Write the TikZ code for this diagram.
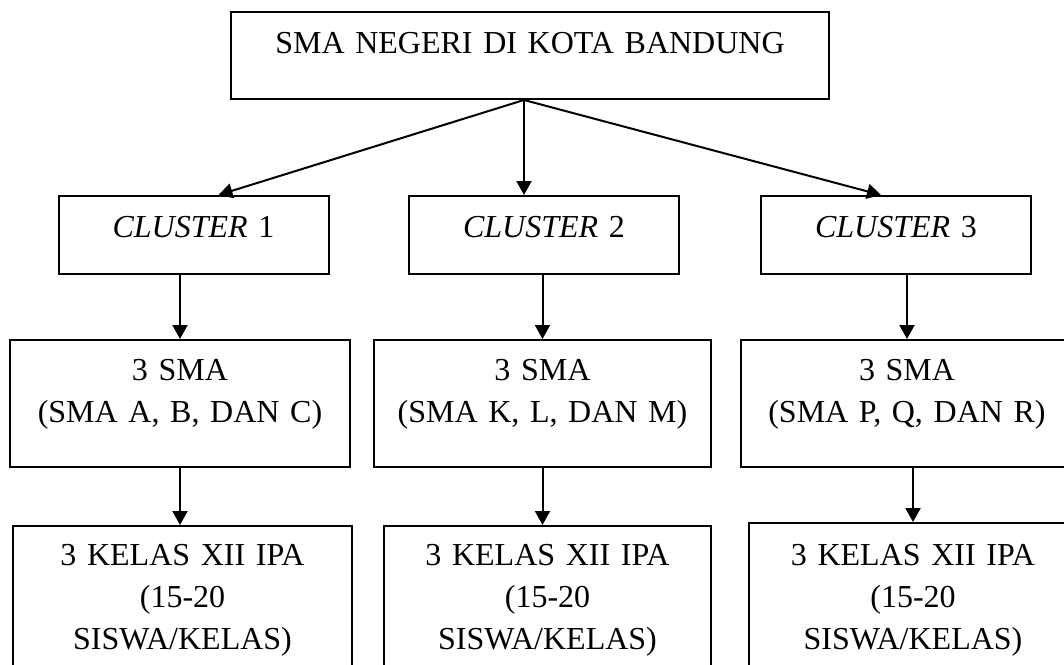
\documentclass[tikz,border=0pt]{standalone}
\usepackage{fontspec}
\setmainfont{Liberation Serif}
\usetikzlibrary{arrows.meta}

\tikzset{
  box/.style={draw, line width=1pt, inner sep=0pt, align=center, anchor=base,
    font=\fontsize{16}{21}\selectfont},
  arr/.style={-{Triangle[length=7pt,width=7.5pt]}, line width=1pt},
}

\begin{document}
\begin{tikzpicture}[x=0.5pt,y=-0.5pt]
	    \clip (0,0) rectangle (1064,664);
	    \node[box, text width=299pt, text height=21pt, text depth=22.5pt] at (530,54) (top) {SMA NEGERI DI KOTA BANDUNG};

	    \node[box, text width=135pt, text height=20.5pt, text depth=18.5pt] at (193.5,237) (c1) {\textit{CLUSTER} 1};
	    \node[box, text width=135pt, text height=20.5pt, text depth=18.5pt] at (544,237) (c2) {\textit{CLUSTER} 2};
	    \node[box, text width=135pt, text height=20.5pt, text depth=18.5pt] at (896,237) (c3) {\textit{CLUSTER} 3};

	    \node[box, text width=170pt, text height=20pt, text depth=43.5pt] at (180,380) (r1) {3 SMA\\(SMA A, B, DAN C)};
	    \node[box, text width=168.5pt, text height=20pt, text depth=43.5pt] at (542.5,380) (r2) {3 SMA\\(SMA K, L, DAN M)};
	    \node[box, text width=166pt, text height=20pt, text depth=43.5pt] at (907,380) (r3) {3 SMA\\(SMA P, Q, DAN R)};

	    \node[box, text width=169.5pt, text height=19.5pt, text depth=70pt] at (182.5,565) (k1) {3 KELAS XII IPA\\(15-20\\SISWA/KELAS)};
	    \node[box, text width=163.5pt, text height=19.5pt, text depth=70pt] at (547.5,565) (k2) {3 KELAS XII IPA\\(15-20\\SISWA/KELAS)};
	    \node[box, text width=164pt, text height=21pt, text depth=70pt] at (913,565) (k3) {3 KELAS XII IPA\\(15-20\\SISWA/KELAS)};

	    \coordinate (hub) at ([xshift=-3pt]top.south);
	    \draw[arr] (hub) -- ([xshift=12.5pt]c1.north);
	    \draw[arr] (hub) -- (hub |- c2.north);
	    \draw[arr] (hub) -- ([xshift=-7.5pt]c3.north);

	    \draw[arr] (c1.south -| r1.north) -- (r1.north);
	    \draw[arr] (c2.south -| r2.north) -- (r2.north);
	    \draw[arr] (c3.south -| r3.north) -- (r3.north);

	    \draw[arr] (r1.south) -- (r1.south |- k1.north);
	    \draw[arr] (r2.south) -- (r2.south |- k2.north);
	    \draw[arr] (r3.south -| k3.north) -- (k3.north);
\end{tikzpicture}
\end{document}
